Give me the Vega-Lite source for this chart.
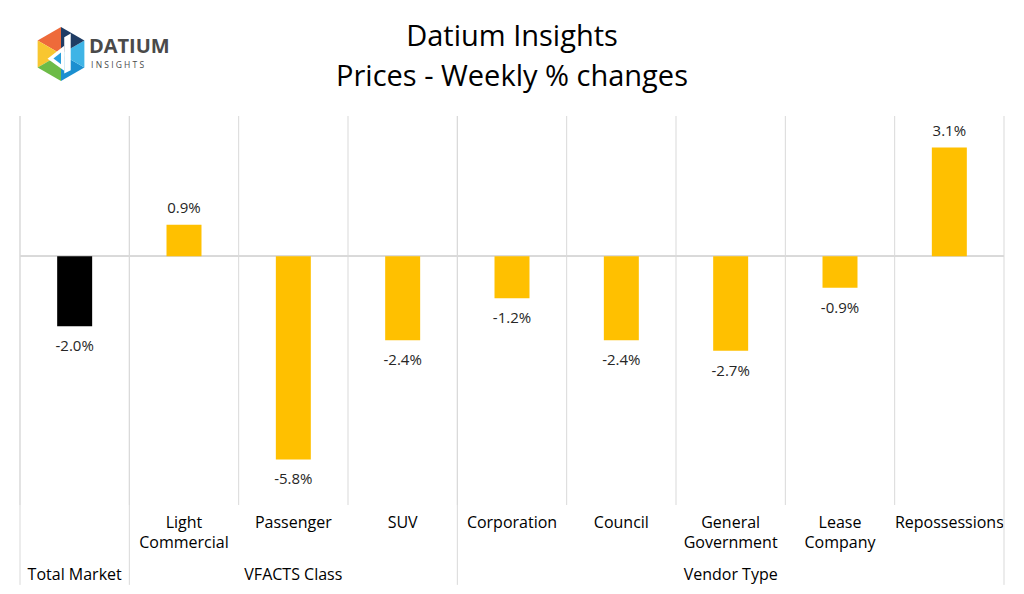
{
  "$schema": "https://vega.github.io/schema/vega-lite/v6.json",
  "autosize": {"type": "none"},
  "padding": {"left": 20, "right": 20, "top": 116, "bottom": 89},
  "width": 984,
  "height": 389,
  "title": {
    "text": ["Datium Insights", "Prices - Weekly % changes"],
    "anchor": "middle",
    "frame": "group",
    "fontSize": 29,
    "fontWeight": "normal",
    "lineHeight": 40,
    "color": "#000000",
    "offset": -65
  },
  "config": {
    "font": "Open Sans",
    "view": {"stroke": null},
    "locale": {"number": {"decimal": ".", "thousands": ",", "grouping": [3], "currency": ["$", ""], "minus": "-"}}
  },
  "datasets": {
    "main": [
      {"cat": "Total Market", "group": "Total Market", "value": -0.020},
      {"cat": "Light Commercial", "group": "VFACTS Class", "value": 0.009},
      {"cat": "Passenger", "group": "VFACTS Class", "value": -0.058},
      {"cat": "SUV", "group": "VFACTS Class", "value": -0.024},
      {"cat": "Corporation", "group": "Vendor Type", "value": -0.012},
      {"cat": "Council", "group": "Vendor Type", "value": -0.024},
      {"cat": "General Government", "group": "Vendor Type", "value": -0.027},
      {"cat": "Lease Company", "group": "Vendor Type", "value": -0.009},
      {"cat": "Repossessions", "group": "Vendor Type", "value": 0.031}
    ],
    "groups": [
      {"cat": "Total Market", "label": "Total Market"},
      {"cat": "Passenger", "label": "VFACTS Class"},
      {"cat": "General Government", "label": "Vendor Type"}
    ],
    "logo": [
      {"cat": "Total Market", "seg": "tl"},
      {"cat": "Total Market", "seg": "l"},
      {"cat": "Total Market", "seg": "bl"},
      {"cat": "Total Market", "seg": "br"},
      {"cat": "Total Market", "seg": "r"},
      {"cat": "Total Market", "seg": "tr"},
      {"cat": "Total Market", "seg": "bar"},
      {"cat": "Total Market", "seg": "tri"},
      {"cat": "Total Market", "seg": "inner"}
    ],
    "logotext": [
      {"cat": "Total Market", "line": "DATIUM"}
    ],
    "logosub": [
      {"cat": "Total Market", "line": "I  N  S  I  G  H  T  S"}
    ]
  },
  "layer": [
    {
      "data": {"name": "main"},
      "mark": {"type": "rule", "color": "#d9d9d9", "strokeWidth": 1},
      "encoding": {
        "x": {"field": "cat", "type": "nominal", "bandPosition": 0,
              "scale": {"domain": ["Total Market", "Light Commercial", "Passenger", "SUV", "Corporation", "Council", "General Government", "Lease Company", "Repossessions"], "paddingInner": 0, "paddingOuter": 0},
              "axis": {"title": null, "domain": false, "ticks": false, "grid": false,
                       "labelExpr": "datum.label == 'Total Market' ? '' : split(datum.label, ' ')",
                       "labelFontSize": 16, "labelColor": "#000000", "labelPadding": 9,
                       "labelBaseline": "top", "labelLineHeight": 20, "labelLimit": 0, "labelAngle": 0}},
        "y": {"datum": 0.04, "type": "quantitative", "scale": {"domain": [-0.071, 0.04], "nice": false, "zero": false}, "axis": null},
        "y2": {"datum": -0.071}
      }
    },
    {
      "data": {"name": "main"},
      "transform": [{"filter": "datum.cat == 'Total Market' || datum.cat == 'Light Commercial' || datum.cat == 'Corporation'"}],
      "mark": {"type": "rule", "color": "#d9d9d9", "strokeWidth": 1},
      "encoding": {
        "x": {"field": "cat", "type": "nominal", "bandPosition": 0},
        "y": {"datum": 0.04, "type": "quantitative"},
        "y2": {"datum": -0.0938}
      }
    },
    {
      "data": {"name": "main"},
      "transform": [{"filter": "datum.cat == 'Repossessions'"}],
      "mark": {"type": "rule", "color": "#d9d9d9", "strokeWidth": 1},
      "encoding": {
        "x": {"field": "cat", "type": "nominal", "bandPosition": 1},
        "y": {"datum": 0.04, "type": "quantitative"},
        "y2": {"datum": -0.0938}
      }
    },
    {
      "data": {"name": "main"},
      "mark": {"type": "rule", "color": "#d9d9d9", "strokeWidth": 1.5},
      "encoding": {
        "y": {"datum": 0, "type": "quantitative"}
      }
    },
    {
      "data": {"name": "main"},
      "mark": {"type": "bar", "width": {"band": 0.32}},
      "encoding": {
        "x": {"field": "cat", "type": "nominal"},
        "y": {"field": "value", "type": "quantitative"},
        "y2": {"datum": 0},
        "color": {"condition": {"test": "datum.cat == 'Total Market'", "value": "#000000"}, "value": "#FFC000"}
      }
    },
    {
      "data": {"name": "main"},
      "transform": [{"filter": "datum.value >= 0"}],
      "mark": {"type": "text", "baseline": "bottom", "dy": -9, "fontSize": 15, "color": "#262626"},
      "encoding": {
        "x": {"field": "cat", "type": "nominal"},
        "y": {"field": "value", "type": "quantitative"},
        "text": {"field": "value", "type": "quantitative", "format": ".1%"}
      }
    },
    {
      "data": {"name": "main"},
      "transform": [{"filter": "datum.value < 0"}],
      "mark": {"type": "text", "baseline": "top", "dy": 13, "fontSize": 15, "color": "#262626"},
      "encoding": {
        "x": {"field": "cat", "type": "nominal"},
        "y": {"field": "value", "type": "quantitative"},
        "text": {"field": "value", "type": "quantitative", "format": ".1%"}
      }
    },
    {
      "data": {"name": "groups"},
      "mark": {"type": "text", "baseline": "middle", "fontSize": 16, "color": "#000000"},
      "encoding": {
        "x": {"field": "cat", "type": "nominal"},
        "y": {"datum": -0.0909, "type": "quantitative"},
        "text": {"field": "label"}
      }
    },
    {
      "data": {"name": "logo"},
      "mark": {"type": "point", "filled": true, "opacity": 1, "size": 2916, "strokeWidth": 0},
      "encoding": {
        "x": {"field": "cat", "type": "nominal", "bandPosition": 0.375},
        "y": {"datum": 0.0577, "type": "quantitative"},
        "shape": {"field": "seg", "type": "nominal", "legend": null,
                  "scale": {"domain": ["tl", "l", "bl", "br", "r", "tr", "bar", "tri", "inner"],
                            "range": ["M0,0L-0.866,-0.5L0,-1Z", "M0,0L-0.866,0.5L-0.866,-0.5Z", "M0,0L0,1L-0.866,0.5Z", "M0,0L0.866,0.5L0,1Z", "M0,0L0.866,-0.5L0.866,0.5Z", "M0,0L0,-1L0.866,-0.5Z",
                                      "M0.12,-0.62L0.36,-0.76L0.36,0.6L0.12,0.72Z", "M0.12,-0.3L-0.5,0.18L0.12,0.62Z", "M0.0,-0.05L-0.28,0.17L0.0,0.38Z"]}},
        "color": {"field": "seg", "type": "nominal", "legend": null,
                  "scale": {"domain": ["tl", "l", "bl", "br", "r", "tr", "bar", "tri", "inner"],
                            "range": ["#ee6a3a", "#f8c630", "#6dbb47", "#1b8fd0", "#3fb4e6", "#1f3c64", "#ffffff", "#ffffff", "#2a9fdc"]}}
      }
    },
    {
      "data": {"name": "logotext"},
      "mark": {"type": "text", "align": "left", "baseline": "alphabetic", "fontSize": 20, "fontWeight": "bold", "color": "#4a4a4a"},
      "encoding": {
        "x": {"field": "cat", "type": "nominal", "bandPosition": 0.63},
        "y": {"datum": 0.0581, "type": "quantitative"},
        "text": {"field": "line"}
      }
    },
    {
      "data": {"name": "logosub"},
      "mark": {"type": "text", "align": "left", "baseline": "top", "fontSize": 8.5, "color": "#4a4a4a"},
      "encoding": {
        "x": {"field": "cat", "type": "nominal", "bandPosition": 0.65},
        "y": {"datum": 0.0556, "type": "quantitative"},
        "text": {"field": "line"}
      }
    }
  ]
}
